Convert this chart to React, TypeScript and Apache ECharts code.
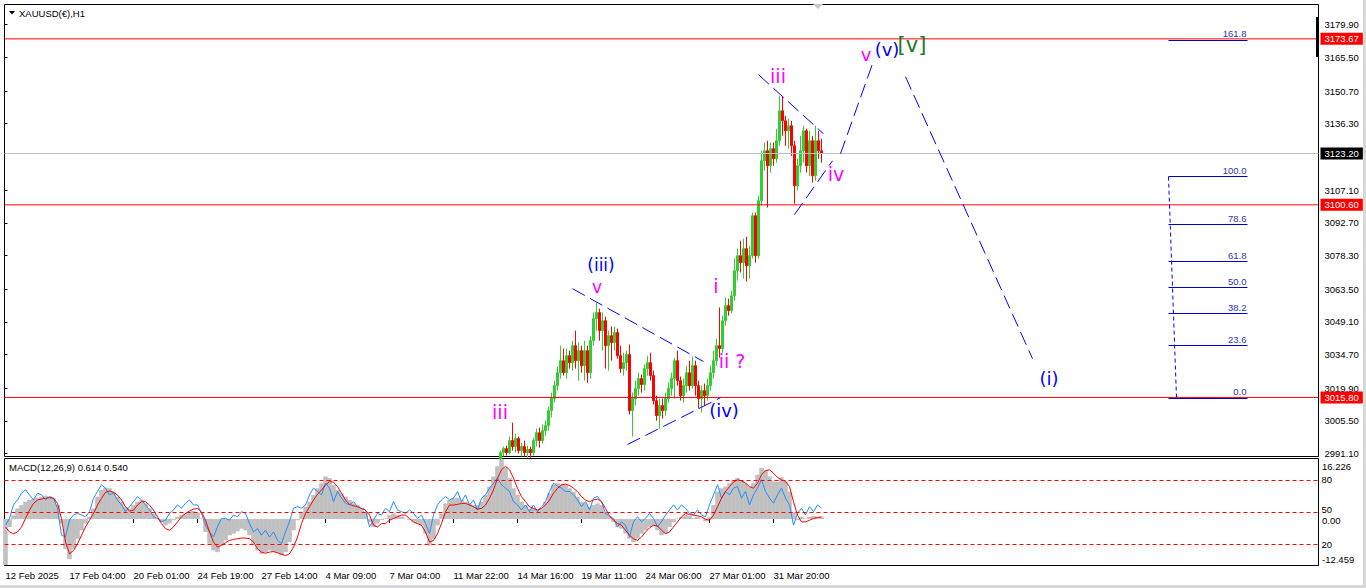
import React, { useEffect, useRef } from "react";
import * as echarts from "echarts";

// ---------------- texts ----------------
const symbolTitle = "XAUUSD(€),H1";
const macdTitle = "MACD(12,26,9) 0.614 0.540";

// ---------------- H1 price candles (sampled every 3 hours), [open, close, low, high] ----------------
const candleStartHour = 496;
const candleStepHours = 3;
const candlesOCLH: number[][] = [
  [2988.9, 2991.5, 2988.0, 2992.4], [2991.5, 2993.3, 2989.8, 2994.2], [2993.3, 2991.5, 2990.2, 2994.6],
  [2991.5, 2996.8, 2990.7, 2998.6], [2996.8, 2994.2, 2992.4, 3004.7], [2994.2, 2997.7, 2991.5, 2999.9],
  [2997.7, 2992.4, 2991.1, 2998.6], [2992.4, 2994.2, 2989.8, 2995.9], [2994.2, 2991.5, 2989.8, 2996.8],
  [2991.5, 2992.9, 2989.3, 2994.6], [2992.9, 2991.5, 2989.3, 2994.2], [2991.5, 2996.8, 2990.2, 2998.1],
  [2996.8, 3000.3, 2994.2, 3002.1], [3000.3, 2996.8, 2993.7, 3002.5], [2996.8, 3001.2, 2995.5, 3003.9],
  [3001.2, 3003.4, 2999.0, 3005.6], [3003.4, 3010.0, 3001.2, 3011.8], [3010.0, 3015.3, 3006.9, 3017.9],
  [3015.3, 3021.0, 3013.5, 3023.2], [3021.0, 3026.7, 3018.8, 3029.4], [3026.7, 3032.0, 3024.1, 3038.6],
  [3032.0, 3026.7, 3025.4, 3037.3], [3026.7, 3034.2, 3024.1, 3037.3], [3034.2, 3031.1, 3028.5, 3036.4],
  [3031.1, 3038.6, 3027.6, 3040.8], [3038.6, 3032.0, 3028.5, 3045.2], [3032.0, 3036.4, 3023.2, 3040.0],
  [3036.4, 3029.8, 3026.7, 3038.6], [3029.8, 3036.4, 3023.2, 3040.8], [3036.4, 3026.7, 3022.3, 3038.6],
  [3026.7, 3040.8, 3024.1, 3043.0], [3040.8, 3050.5, 3038.6, 3053.2], [3050.5, 3053.2, 3045.2, 3057.5],
  [3053.2, 3045.2, 3040.8, 3054.9], [3045.2, 3049.6, 3036.4, 3053.2], [3049.6, 3038.6, 3028.5, 3051.4],
  [3038.6, 3043.0, 3027.6, 3045.2], [3043.0, 3040.0, 3032.0, 3047.0], [3040.0, 3044.4, 3036.4, 3047.0],
  [3044.4, 3034.2, 3032.9, 3046.1], [3034.2, 3028.5, 3026.7, 3038.6], [3028.5, 3031.1, 3025.4, 3035.5],
  [3031.1, 3034.7, 3027.6, 3036.4], [3034.7, 3010.0, 3008.3, 3039.1], [3010.0, 3015.3, 2998.6, 3017.9],
  [3015.3, 3019.7, 3012.2, 3023.2], [3019.7, 3024.1, 3016.6, 3026.7], [3024.1, 3021.5, 3017.9, 3025.9],
  [3021.5, 3028.5, 3018.8, 3030.3], [3028.5, 3031.1, 3025.4, 3034.2], [3031.1, 3025.4, 3023.2, 3035.5],
  [3025.4, 3014.4, 3012.7, 3027.6], [3014.4, 3007.8, 3005.6, 3016.6], [3007.8, 3012.2, 3002.1, 3015.3],
  [3012.2, 3010.0, 3006.5, 3015.3], [3010.0, 3015.3, 3007.8, 3017.9], [3015.3, 3019.7, 3013.5, 3022.3],
  [3019.7, 3024.1, 3016.6, 3026.7], [3024.1, 3032.0, 3015.3, 3033.3], [3032.0, 3023.2, 3021.0, 3036.4],
  [3023.2, 3016.6, 3014.4, 3025.0], [3016.6, 3021.0, 3013.5, 3024.1], [3021.0, 3026.7, 3017.9, 3029.8],
  [3026.7, 3021.0, 3018.8, 3032.0], [3021.0, 3029.8, 3019.7, 3033.8], [3029.8, 3021.0, 3016.6, 3032.0],
  [3021.0, 3015.3, 3010.9, 3023.2], [3015.3, 3018.8, 3009.1, 3021.0], [3018.8, 3016.6, 3012.2, 3021.9],
  [3016.6, 3021.0, 3014.4, 3024.1], [3021.0, 3026.7, 3018.8, 3029.8], [3026.7, 3032.0, 3024.1, 3036.4],
  [3032.0, 3038.6, 3029.8, 3041.7], [3038.6, 3037.3, 3033.3, 3055.4], [3037.3, 3049.6, 3035.5, 3051.8],
  [3049.6, 3056.2, 3047.4, 3059.8], [3056.2, 3054.0, 3051.8, 3059.3], [3054.0, 3060.6, 3052.7, 3062.8],
  [3060.6, 3071.6, 3058.4, 3076.9], [3071.6, 3078.2, 3067.2, 3081.3], [3078.2, 3075.2, 3070.8, 3084.8],
  [3075.2, 3081.3, 3068.1, 3085.7], [3081.3, 3073.8, 3066.8, 3086.6], [3073.8, 3078.2, 3068.1, 3082.6],
  [3078.2, 3095.8, 3076.9, 3097.2], [3095.8, 3078.2, 3075.2, 3097.2], [3078.2, 3102.4, 3076.9, 3104.6],
  [3102.4, 3120.0, 3100.2, 3124.4], [3120.0, 3124.4, 3115.6, 3128.0], [3124.4, 3117.8, 3099.4, 3128.8],
  [3117.8, 3125.3, 3114.8, 3128.0], [3125.3, 3120.9, 3117.8, 3128.0], [3120.9, 3128.8, 3119.2, 3134.1],
  [3128.8, 3142.0, 3126.6, 3148.6], [3142.0, 3137.6, 3131.0, 3148.6], [3137.6, 3133.2, 3126.6, 3139.8],
  [3133.2, 3135.4, 3125.3, 3138.5], [3135.4, 3126.6, 3122.2, 3137.6], [3126.6, 3109.0, 3101.1, 3128.8],
  [3109.0, 3117.8, 3106.8, 3120.9], [3117.8, 3124.4, 3114.8, 3131.0], [3124.4, 3133.2, 3119.2, 3135.4],
  [3133.2, 3117.8, 3114.8, 3134.1], [3117.8, 3128.8, 3113.4, 3133.2], [3128.8, 3113.4, 3110.4, 3131.0],
  [3113.4, 3128.8, 3111.2, 3135.4], [3128.8, 3124.4, 3120.9, 3133.2], [3124.4, 3123.2, 3119.2, 3129.7],
];

// ---------------- MACD window (sampled every 4 hours) ----------------
const macdStartHour = 1;
const macdStepHours = 4;
const macdMain = [
  -12.3, -2.12, 1.04, 2.84, 3.74, 4.65, 5.10, 5.37, 5.73, 6.00,
  6.27, 6.00, 5.55, 3.74, -1.22, -7.98, -10.69, -7.98, -5.28, -3.02,
  -1.22, 0.59, 2.84, 6.00, 7.80, 8.43, 8.25, 7.35, 6.00, 4.65,
  3.29, 2.84, 3.74, 4.65, 5.10, 4.19, 2.84, 1.49, 0.14, -0.77,
  -1.67, -1.22, -0.32, 0.59, 1.04, 1.49, 1.94, 2.12, 1.76, 0.14,
  -3.47, -6.63, -8.43, -8.88, -7.08, -5.73, -4.37, -3.92, -3.29, -2.57,
  -3.02, -4.37, -6.63, -8.43, -9.34, -8.88, -8.43, -8.88, -9.07, -9.79,
  -8.88, -6.18, -3.02, -0.32, 1.94, 3.29, 4.65, 6.45, 8.25, 9.61,
  11.41, 10.96, 9.16, 7.80, 6.90, 6.00, 5.10, 4.19, 3.74, 2.84,
  1.94, -0.77, -2.12, -1.22, -0.32, 0.14, 1.04, 1.49, 1.04, 0.59,
  0.14, -0.32, -0.77, -1.22, -1.67, -3.92, -7.08, -5.28, -1.67, 1.49,
  4.19, 5.10,
  5.55, 5.73, 5.10, 4.65, 4.19, 3.74, 3.74, 4.65, 6.45, 8.70,
  11.41, 14.12, 16.0, 13.67, 10.96, 8.25, 6.45, 4.65, 3.74, 2.84,
  2.84, 2.39, 2.84, 4.65, 6.90, 9.16, 9.61, 9.34, 9.16, 8.25,
  7.35, 6.00, 4.65, 4.19, 3.29, 3.74, 4.19, 3.74, 1.94, 0.59,
  -0.77, -2.12, -2.57, -3.92, -5.28, -6.18, -5.28, -3.92, -3.02, -2.12,
  -1.85, -3.02, -4.37, -3.92, -2.12, -0.77, 0.14, 0.59, 1.04, 0.86,
  0.32, 0.59, 0.14, -0.59, 0.59, 3.74, 7.35, 8.25, 8.70, 9.61,
  10.51, 10.96, 10.24, 9.61, 8.70, 9.61, 11.86, 13.67, 13.21, 11.41,
  10.06, 10.06, 11.14, 10.06, 7.35, 1.94, -0.32, 0.59, 0.14, 0.59,
  0.86, 0.59, 0.614,
];
const macdSignal = [
  -2.12, -3.47, -3.92, -3.47, -2.12, 0.14, 2.39, 4.19, 5.10, 5.37,
  5.55, 5.73, 5.55, 4.19, 0.14, -6.18, -9.34, -8.43, -6.63, -4.37,
  -2.12, -0.32, 1.49, 3.74, 5.55, 7.17, 7.53, 7.17, 6.45, 5.10,
  3.29, 2.12, 2.39, 3.74, 4.65, 4.65, 3.74, 2.39, 0.59, -1.22,
  -2.57, -3.02, -2.12, -0.77, 0.59, 1.49, 2.12, 2.66, 2.84, 1.94,
  -0.32, -3.47, -6.18, -7.53, -7.08, -6.36, -5.73, -5.46, -5.28, -5.10,
  -5.10, -5.28, -6.18, -7.98, -8.88, -9.16, -8.88, -8.70, -9.07, -9.43,
  -9.79, -9.34, -7.53, -4.83, -1.22, 1.49, 3.29, 5.10, 6.63, 7.80,
  9.16, 10.06, 9.88, 8.70, 6.90, 5.10, 3.92, 3.56, 3.29, 2.84,
  2.39, 1.04, -1.67, -2.12, -1.22, -1.22, -0.32, 0.14, 0.59, 1.04,
  1.04, 0.14, -0.77, -1.22, -1.67, -3.47, -6.18, -5.73, -3.92, -1.22,
  1.94, 3.74,
  3.74, 3.92, 4.19, 4.19, 3.74, 3.29, 2.66, 2.84, 3.74, 5.55,
  7.80, 10.96, 13.21, 14.12, 13.21, 10.96, 8.25, 6.00, 4.65, 3.29,
  2.84, 2.39, 2.84, 3.74, 5.10, 6.90, 8.25, 9.16, 9.34, 8.97,
  8.25, 7.35, 6.00, 5.10, 4.65, 5.10, 5.37, 4.65, 2.84, 0.86,
  -0.32, -1.22, -1.67, -3.02, -4.37, -5.28, -5.73, -4.83, -3.47, -2.39,
  -1.67, -1.85, -3.02, -3.92, -3.47, -2.12, -0.77, 0.59, 1.49, 1.22,
  1.04, 0.86, 0.59, -0.05, -0.32, 1.04, 3.29, 5.55, 7.35, 8.70,
  9.88, 10.51, 10.24, 9.61, 8.70, 8.25, 9.61, 11.86, 12.94, 13.21,
  12.31, 11.14, 10.51, 10.06, 8.70, 4.65, 1.04, -0.77, -0.77, -0.32,
  0.14, 0.41, 0.54,
];
// fast oscillator drawn on the 0..100 scale of the same window (levels 80 / 50 / 20)
const oscillator = [
  37.7, 44.0, 56.6, 61.3, 67.6, 70.8, 66.0, 61.3, 67.6, 66.0,
  61.3, 64.5, 62.9, 53.5, 28.3, 26.7, 42.5, 47.2, 48.7, 47.2,
  45.6, 50.3, 62.9, 69.2, 75.5, 72.3, 66.0, 67.6, 61.3, 56.6,
  50.3, 55.0, 59.7, 64.5, 61.3, 56.6, 51.9, 45.6, 44.0, 40.9,
  42.5, 48.7, 51.9, 56.6, 53.5, 58.2, 61.3, 56.6, 56.6, 48.7,
  37.7, 31.4, 26.7, 36.2, 44.0, 44.0, 42.5, 47.2, 45.6, 50.3,
  48.7, 39.3, 31.4, 34.6, 28.3, 33.0, 26.7, 31.4, 23.6, 20.4,
  31.4, 40.9, 53.5, 55.0, 53.5, 56.6, 66.0, 72.3, 69.2, 66.0,
  77.0, 72.3, 59.7, 69.2, 62.9, 58.2, 56.6, 59.7, 55.0, 53.5,
  51.9, 36.2, 42.5, 48.7, 47.2, 53.5, 50.3, 59.7, 51.9, 50.3,
  48.7, 51.9, 48.7, 44.0, 47.2, 39.3, 29.9, 47.2, 56.6, 61.3,
  64.5, 61.3,
  62.9, 69.2, 59.7, 66.0, 56.6, 61.3, 51.9, 62.9, 66.0, 72.3,
  77.0, 81.8, 75.5, 72.3, 69.2, 59.7, 56.6, 51.9, 56.6, 50.3,
  56.6, 50.3, 55.0, 59.7, 69.2, 77.0, 73.9, 72.3, 69.2, 69.2,
  66.0, 61.3, 55.0, 59.7, 51.9, 62.9, 64.5, 59.7, 48.7, 45.6,
  44.0, 36.2, 40.9, 37.7, 26.7, 40.9, 45.6, 40.9, 44.0, 48.7,
  44.0, 36.2, 40.9, 47.2, 51.9, 56.6, 51.9, 56.6, 53.5, 48.7,
  47.2, 51.9, 47.2, 45.6, 56.6, 66.0, 75.5, 62.9, 69.2, 66.0,
  72.3, 73.9, 62.9, 69.2, 56.6, 66.0, 72.3, 80.2, 69.2, 62.9,
  58.2, 66.0, 72.3, 62.9, 56.6, 37.7, 48.7, 53.5, 47.2, 55.0,
  50.3, 56.6, 53.5,
];
const oscLevels = [80, 50, 20];
const oscAxisLabels = [80, 20];

// ---------------- axes ----------------
const priceMin = 2989.8;
const priceMax = 3188.8;
const priceTickValues = [3179.9, 3165.5, 3150.7, 3136.3, 3107.1, 3092.7, 3078.3, 3063.5, 3049.1, 3034.7, 3019.9, 3005.5, 2991.1];
const hourSpan = 1314;
const timeTickHours = [1, 65, 129, 193, 257, 321, 385, 449, 513, 577, 641, 705, 769];
const timeTickLabels = [
  "12 Feb 2025", "17 Feb 04:00", "20 Feb 01:00", "24 Feb 19:00", "27 Feb 14:00", "4 Mar 09:00",
  "7 Mar 04:00", "11 Mar 22:00", "14 Mar 16:00", "19 Mar 11:00", "24 Mar 06:00", "27 Mar 01:00", "31 Mar 20:00",
];
const macdMin = -12.459;
const macdMax = 16.226;

// ---------------- horizontal levels ----------------
const redLevelPrices = [3173.67, 3100.6, 3015.8];
const bidPrice = 3123.2;

// ---------------- Fibonacci retracement ----------------
const fibRatios = [0, 23.6, 38.2, 50.0, 61.8, 78.6, 100.0, 161.8];
const fibZeroPrice = 3015.6;
const fibHundredPrice = 3113.0;
const fibStartHour = 1164;
const fibEndHour = 1243;
const fibConnector = [[1164, 3113.0], [1172, 3015.7]];

// ---------------- Elliott wave trend lines [hour, price] ----------------
const waveLines = [
  [[568, 3063.7], [699, 3031.6]],
  [[623, 2995.1], [716, 3015.7]],
  [[754, 3157.9], [819, 3131.9]],
  [[790, 3096.3], [828, 3120.0]],
  [[836, 3123.1], [868, 3162.7]],
  [[901, 3157.0], [1028, 3032.9]],
];

const MAG = "#ff00ff";
const BLU = "#0000ff";
const GRN = "#237a23";
const waveLabels = [
  { text: "iii", x: 500, y: 412, color: MAG, size: 19 },
  { text: "(iii)", x: 601, y: 265, color: BLU, size: 17 },
  { text: "v", x: 597, y: 287, color: MAG, size: 17 },
  { text: "i", x: 716, y: 286, color: MAG, size: 19 },
  { text: "ii ?", x: 732, y: 361, color: MAG, size: 19 },
  { text: "(iv)", x: 724, y: 410, color: BLU, size: 18 },
  { text: "iii", x: 778, y: 76, color: MAG, size: 19 },
  { text: "iv", x: 836, y: 174, color: MAG, size: 19 },
  { text: "v", x: 866, y: 54, color: MAG, size: 18 },
  { text: "(v)", x: 887, y: 49, color: BLU, size: 18 },
  { text: "[v]", x: 912, y: 45, color: GRN, size: 21 },
  { text: "(i)", x: 1049, y: 378, color: BLU, size: 18 },
];

const FONT = "'Liberation Sans', Arial, sans-serif";
const LFONT = "'DejaVu Sans', sans-serif";

function buildOption() {
  const candleData = candlesOCLH.map((c, i) => [candleStartHour + i * candleStepHours, c[0], c[1], c[2], c[3]]);
  const macdHour = (i: number) => macdStartHour + i * macdStepHours;
  const histData = macdMain.map((v, i) => [macdHour(i), v]);
  const sigData = macdSignal.map((v, i) => [macdHour(i), v]);
  const oscData = oscillator.map((v, i) => [macdHour(i), v]);

  const levelSeries = (p: number, lineColor: string, boxColor: string) => ({
    type: "line",
    xAxisIndex: 0,
    yAxisIndex: 0,
    data: [[0, p], [hourSpan, p]],
    symbol: "none",
    silent: true,
    clip: false,
    z: 4,
    color: lineColor,
    lineStyle: { color: lineColor, width: 1, type: "solid" },
    endLabel: {
      show: true,
      formatter: p.toFixed(2),
      color: "#ffffff",
      backgroundColor: boxColor,
      padding: [1, 4, 1, 4],
      distance: 2,
      fontSize: 9.5,
      fontFamily: FONT,
    },
  });

  const fibLines: any[] = fibRatios.map((r) => {
    const p = fibZeroPrice + ((fibHundredPrice - fibZeroPrice) * r) / 100;
    return [
      {
        coord: [fibStartHour, p],
        label: {
          show: true,
          position: "insideEndTop",
          formatter: r.toFixed(1),
          color: "#3030c0",
          fontSize: 9.5,
          fontFamily: FONT,
          distance: 1,
        },
      },
      { coord: [fibEndHour, p] },
    ];
  });

  const waveSeries = waveLines.map((pts) => ({
    type: "line",
    xAxisIndex: 0,
    yAxisIndex: 0,
    data: pts,
    symbol: "none",
    silent: true,
    z: 6,
    lineStyle: { color: BLU, width: 1, type: [14, 6] },
  }));

  const smallText = (text: string, x: number, y: number) => ({
    type: "text",
    z: 100,
    silent: true,
    style: { text, x, y, fontSize: 9.5, fontFamily: FONT, fill: "#000", verticalAlign: "middle" },
  });

  const graphic: any[] = [
    { type: "rect", z: 100, silent: true, shape: { x: 1363, y: 0, width: 3, height: 588 }, style: { fill: "#d8d8d8" } },
    { type: "rect", z: 100, silent: true, shape: { x: 0, y: 585, width: 1366, height: 3 }, style: { fill: "#d8d8d8" } },
    { type: "polygon", z: 100, silent: true, shape: { points: [[9, 11], [15, 11], [12, 14.5]] }, style: { fill: "#000" } },
    smallText(symbolTitle, 19, 13),
    { type: "polygon", z: 100, silent: true, shape: { points: [[813, 4], [823, 4], [818, 9]] }, style: { fill: "#c8c8c8" } },
    { type: "rect", z: 100, silent: true, shape: { x: 1316, y: 17, width: 3, height: 40 }, style: { fill: "#000" } },
    smallText(macdTitle, 9, 467),
    smallText(macdMax.toFixed(3), 1322, 466),
    smallText("50", 1321.5, 509.5),
    smallText("0.00", 1322, 520),
    smallText(macdMin.toFixed(3), 1322, 559),
  ];
  waveLabels.forEach((l) => {
    graphic.push({
      type: "text",
      z: 100,
      silent: true,
      style: {
        text: l.text,
        x: l.x,
        y: l.y,
        fill: l.color,
        fontSize: l.size,
        fontFamily: LFONT,
        align: "center",
        verticalAlign: "middle",
      },
    });
  });

  return {
    animation: false,
    backgroundColor: "#ffffff",
    grid: [
      { left: 4.5, top: 4.5, width: hourSpan, height: 452, show: true, borderColor: "#000", borderWidth: 1, backgroundColor: "#fff" },
      { left: 4.5, top: 458.5, width: hourSpan, height: 107, show: true, borderColor: "#000", borderWidth: 1, backgroundColor: "#fff" },
    ],
    xAxis: [
      { type: "value", gridIndex: 0, min: 0, max: hourSpan, show: false },
      {
        type: "value",
        gridIndex: 1,
        min: 0,
        max: hourSpan,
        splitLine: { show: false },
        axisLine: { show: false },
        axisTick: { show: true, length: 4, customValues: timeTickHours, lineStyle: { color: "#000" } },
        axisLabel: {
          customValues: timeTickHours,
          formatter: (v: number) => {
            const i = timeTickHours.findIndex((h) => Math.abs(h - v) < 0.01);
            return i >= 0 ? timeTickLabels[i] : "";
          },
          align: "left",
          margin: 5,
          fontSize: 9.5,
          fontFamily: FONT,
          color: "#000",
        },
      },
    ],
    yAxis: [
      {
        type: "value",
        gridIndex: 0,
        position: "right",
        min: priceMin,
        max: priceMax,
        splitLine: { show: false },
        axisLine: { show: false },
        axisTick: { show: true, length: 3, customValues: priceTickValues, lineStyle: { color: "#000" } },
        axisLabel: {
          customValues: priceTickValues,
          formatter: (v: number) => v.toFixed(2),
          margin: 6,
          fontSize: 9.5,
          fontFamily: FONT,
          color: "#000",
        },
      },
      {
        type: "value",
        gridIndex: 1,
        position: "right",
        min: macdMin,
        max: macdMax,
        splitLine: { show: false },
        axisLine: { show: false },
        axisTick: { show: false },
        axisLabel: { show: false },
      },
      {
        type: "value",
        gridIndex: 1,
        position: "right",
        min: 0,
        max: 100,
        splitLine: { show: false },
        axisLine: { show: false },
        axisTick: { show: false },
        axisLabel: {
          customValues: oscAxisLabels,
          formatter: (v: number) => String(v),
          margin: 3,
          fontSize: 9.5,
          fontFamily: FONT,
          color: "#000",
        },
      },
    ],
    series: [
      {
        type: "candlestick",
        xAxisIndex: 0,
        yAxisIndex: 0,
        data: candleData,
        encode: { x: 0, y: [1, 2, 3, 4] },
        barWidth: 2,
        z: 3,
        itemStyle: {
          color: "#32cd32",
          color0: "#ff0000",
          borderColor: "#32cd32",
          borderColor0: "#ff0000",
          borderWidth: 1,
        },
        markLine: {
          silent: true,
          animation: false,
          symbol: ["none", "none"],
          lineStyle: { color: "#0000cc", width: 1, type: "solid" },
          data: fibLines,
        },
      },
      ...redLevelPrices.map((p) => levelSeries(p, "#ff0000", "#ff0000")),
      levelSeries(bidPrice, "#c0c0c0", "#000000"),
      ...waveSeries,
      {
        type: "line",
        xAxisIndex: 0,
        yAxisIndex: 0,
        data: fibConnector,
        symbol: "none",
        silent: true,
        z: 6,
        lineStyle: { color: BLU, width: 1, type: [4, 3] },
      },
      {
        type: "bar",
        xAxisIndex: 1,
        yAxisIndex: 1,
        data: histData,
        barWidth: 4.6,
        silent: true,
        itemStyle: { color: "#c0c0c0" },
      },
      {
        type: "line",
        xAxisIndex: 1,
        yAxisIndex: 2,
        data: oscData,
        symbol: "none",
        silent: true,
        z: 4,
        lineStyle: { color: "#1e90ff", width: 1 },
        markLine: {
          silent: true,
          animation: false,
          symbol: ["none", "none"],
          label: { show: false },
          lineStyle: { color: "#ff0000", width: 1, type: [4, 3] },
          data: oscLevels.map((v) => ({ yAxis: v })),
        },
      },
      {
        type: "line",
        xAxisIndex: 1,
        yAxisIndex: 1,
        data: sigData,
        symbol: "none",
        silent: true,
        z: 5,
        lineStyle: { color: "#ff0000", width: 1 },
      },
    ],
    graphic,
  };
}

export default function App() {
  const ref = useRef<HTMLDivElement>(null);
  useEffect(() => {
    if (!ref.current) return;
    const chart = echarts.init(ref.current, undefined, { renderer: "svg", width: 1366, height: 588 });
    chart.setOption(buildOption() as any);
    return () => chart.dispose();
  }, []);
  return (
    <div
      ref={ref}
      style={{ position: "fixed", left: 0, top: 0, width: 1366, height: 588, background: "#ffffff" }}
    />
  );
}
